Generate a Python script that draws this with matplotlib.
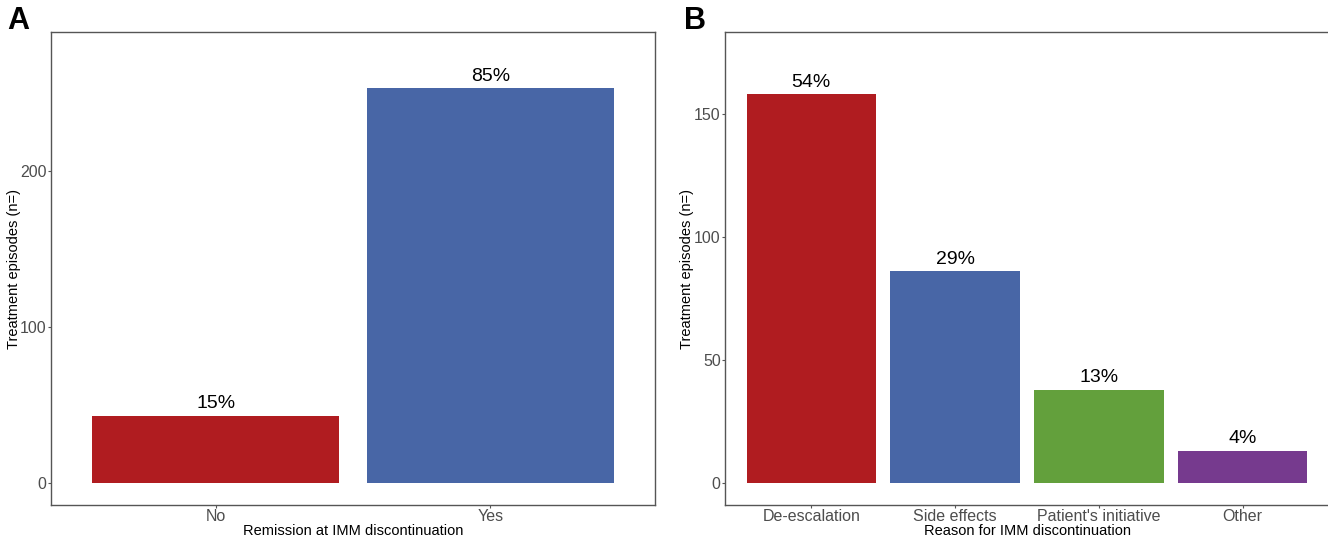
import matplotlib
matplotlib.use("Agg")
import matplotlib.pyplot as plt

plt.rcParams['font.family'] = ['Liberation Sans', 'DejaVu Sans']

# panel A: remission status at discontinuation
remission_cats = ['No', 'Yes']
remission_n = [43, 253]
remission_pct = ['15%', '85%']
remission_cols = ['#B01C20', '#4866A6']

# panel B: reasons for discontinuation
reason_cats = ['De-escalation', 'Side effects', "Patient's initiative", 'Other']
reason_n = [158, 86, 38, 13]
reason_pct = ['54%', '29%', '13%', '4%']
reason_cols = ['#B01C20', '#4866A6', '#63A03C', '#763A8E']

W, H = 1328, 540
fig = plt.figure(figsize=(W / 100, H / 100), dpi=100)
fig.set_facecolor('white')


def panel(rect, cats, vals, labels, cols, ylim, yticks, xlabel, letter, letter_x, ylab_x):
    l, r, t, b = rect
    ax = fig.add_axes([l / W, 1 - b / H, (r - l) / W, (b - t) / H])
    x = range(len(cats))
    bars = ax.bar(x, vals, width=0.9, color=cols)
    for bar, lab in zip(bars, labels):
        ax.text(bar.get_x() + bar.get_width() / 2, bar.get_height() + ylim[1] * 0.008, lab,
                ha='center', va='bottom', fontsize=14, color='black')
    ax.set_xlim(-0.6, len(cats) - 0.4)
    ax.set_ylim(*ylim)
    ax.set_xticks(list(x))
    ax.set_xticklabels(cats)
    ax.set_yticks(yticks)
    ax.tick_params(axis='both', colors='#555555', labelcolor='#4d4d4d', labelsize=11.5,
                   length=2.5, width=0.8, pad=0.6)
    for sp in ax.spines.values():
        sp.set_color('#555555')
        sp.set_linewidth(1.0)
    ax.set_xlabel(xlabel, fontsize=10.5, color='black', labelpad=0)
    ax.set_ylabel('Treatment episodes (n=)', fontsize=10.5, color='black')
    ax.yaxis.set_label_coords((ylab_x - l) / (r - l), 0.5)
    fig.text(letter_x / W, 1 - 21 / H, letter, fontsize=22, fontweight='bold',
             ha='left', va='center')
    return ax


panel((51, 655, 32, 505), remission_cats, remission_n, remission_pct, remission_cols,
      (-14.1, 289), [0, 100, 200], 'Remission at IMM discontinuation', 'A', 7, 21)
panel((725, 1329, 32, 505), reason_cats, reason_n, reason_pct, reason_cols,
      (-8.9, 183.3), [0, 50, 100, 150], 'Reason for IMM discontinuation', 'B', 684, 694)

fig.savefig('out.png', dpi=100, facecolor='white')
